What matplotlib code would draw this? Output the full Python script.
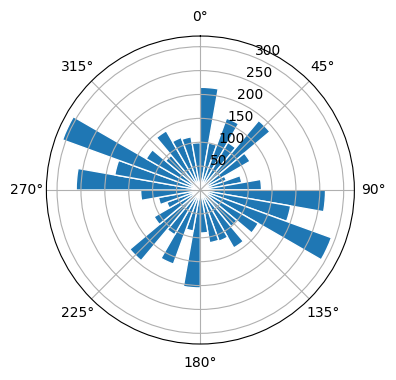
import numpy as np
import matplotlib
matplotlib.use('Agg')
import matplotlib.pyplot as plt

# direction bins (degrees, start of each 10 deg sector) and counts
directions = np.arange(0, 360, 10)
counts = [215, 100, 160, 115, 190, 120, 58, 88, 128,
          262, 192, 292, 140, 100, 140, 114, 112, 90,
          205, 87, 165, 108, 193, 112, 75, 89, 125,
          260, 182, 307, 131, 95, 143, 117, 113, 99]
bin_width = 10


def plot_rose():
    fig = plt.figure(figsize=(3.96, 3.80), dpi=100)
    ax = fig.add_axes([0.117, 0.0947, 0.778, 0.8105], projection='polar')
    ax.set_theta_zero_location('N')
    ax.set_theta_direction(-1)
    ax.bar(np.deg2rad(directions), counts, width=np.deg2rad(bin_width),
           align='edge', color='#1f77b4', edgecolor='white', linewidth=1)
    ax.set_rlabel_position(22.5)
    fig.savefig('out.png', dpi=100)


if __name__ == '__main__':
    plot_rose()
